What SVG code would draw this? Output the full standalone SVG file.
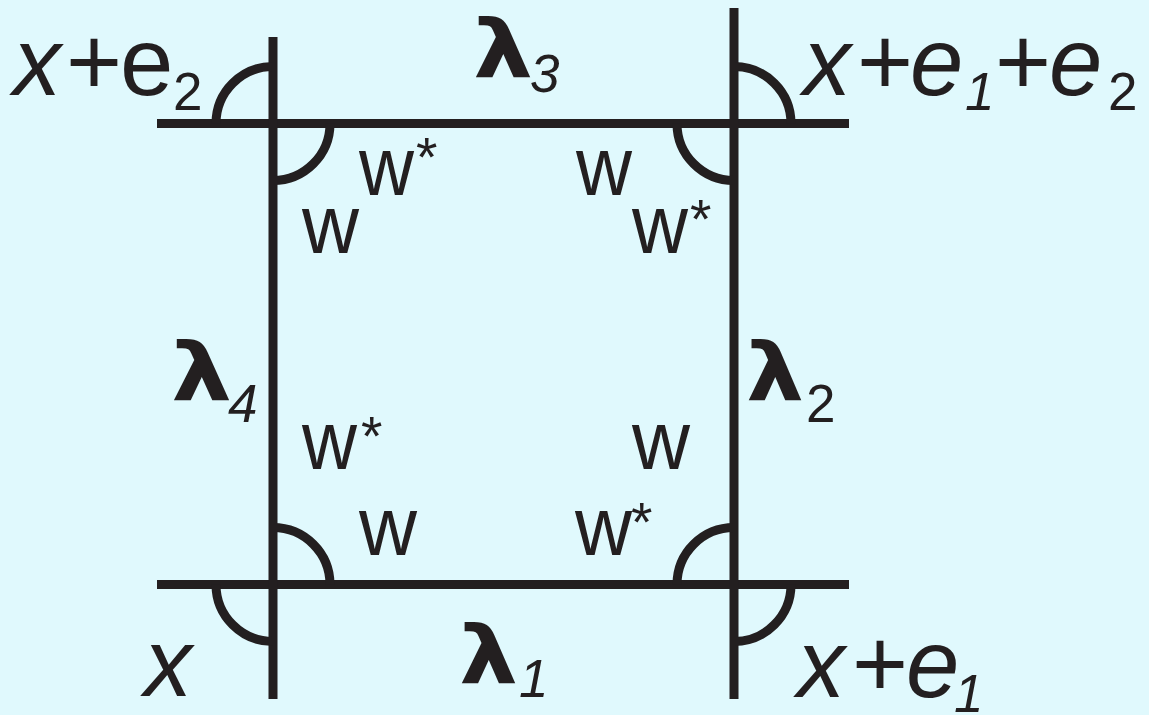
<svg xmlns="http://www.w3.org/2000/svg" width="1149" height="715" viewBox="0 0 1149 715">
<style>
.ln{stroke:#231f20;stroke-width:9;fill:none}
.t{font-family:"Liberation Sans",Arial,sans-serif;fill:#231f20}
.m{font-size:96px}
.s{font-size:53px}
.i{font-style:italic}
.w{font-size:84px}
.a{font-size:55px}
.l{font-family:"DejaVu Sans",sans-serif;font-weight:bold;font-size:80px;fill:#231f20}
</style>
<rect width="1149" height="715" fill="#e0f9fd"/>
<g id="connectors">
<line class="ln" x1="157" y1="123.5" x2="849" y2="123.5"/>
<line class="ln" x1="157" y1="584.5" x2="849" y2="584.5"/>
<line class="ln" x1="273" y1="37" x2="273" y2="699"/>
<line class="ln" x1="734" y1="8" x2="734" y2="699"/>
<path class="ln" d="M216,123.5 A57,57 0 0 1 273,66.5"/>
<path class="ln" d="M330,123.5 A57,57 0 0 1 273,180.5"/>
<path class="ln" d="M677,123.5 A57,57 0 0 0 734,180.5"/>
<path class="ln" d="M734,66.5 A57,57 0 0 1 791,123.5"/>
<path class="ln" d="M273,527.5 A57,57 0 0 1 330,584.5"/>
<path class="ln" d="M216,584.5 A57,57 0 0 0 273,641.5"/>
<path class="ln" d="M677,584.5 A57,57 0 0 1 734,527.5"/>
<path class="ln" d="M734,641.5 A57,57 0 0 0 791,584.5"/>
</g>
<g id="corner-tl">
<text class="t m i" x="13" y="95">x</text>
<text class="t m" x="66" y="95">+</text>
<text class="t m" x="120" y="95">e</text>
<text class="t s" x="173" y="110">2</text>
</g>
<g id="corner-tr">
<text class="t m i" x="803" y="95">x</text>
<text class="t m" x="857" y="95">+</text>
<text class="t m i" x="910" y="95">e</text>
<text class="t s i" x="965" y="110">1</text>
<text class="t m" x="995" y="95">+</text>
<text class="t m i" x="1049" y="95">e</text>
<text class="t s" x="1108" y="110">2</text>
</g>
<g id="corner-br">
<text class="t m i" x="797" y="697">x</text>
<text class="t m" x="852" y="697">+</text>
<text class="t m i" x="906" y="697">e</text>
<text class="t s i" x="954" y="712">1</text>
</g>
<g id="corner-bl">
<text class="t m i" x="144" y="696">x</text>
</g>
<g id="edge-labels">
<text class="l" x="473" y="77" textLength="60" lengthAdjust="spacingAndGlyphs">λ</text><text class="t s i" x="530" y="92">3</text>
<text class="l" x="171" y="400" textLength="61" lengthAdjust="spacingAndGlyphs">λ</text><text class="t s i" x="228" y="422">4</text>
<text class="l" x="746" y="400" textLength="58" lengthAdjust="spacingAndGlyphs">λ</text><text class="t s" x="806" y="422">2</text>
<text class="l" x="459" y="683" textLength="59" lengthAdjust="spacingAndGlyphs">λ</text><text class="t s i" x="519" y="697">1</text>
</g>
<g id="w-labels">
<text class="t w" x="359" y="195" textLength="55" lengthAdjust="spacingAndGlyphs">w</text><text class="t a" x="416" y="176">*</text>
<text class="t w" x="302" y="253" textLength="57" lengthAdjust="spacingAndGlyphs">w</text>
<text class="t w" x="576" y="195" textLength="56" lengthAdjust="spacingAndGlyphs">w</text>
<text class="t w" x="632" y="253" textLength="56" lengthAdjust="spacingAndGlyphs">w</text><text class="t a" x="690" y="238">*</text>
<text class="t w" x="302" y="469" textLength="55" lengthAdjust="spacingAndGlyphs">w</text><text class="t a" x="361" y="455">*</text>
<text class="t w" x="359" y="555" textLength="58" lengthAdjust="spacingAndGlyphs">w</text>
<text class="t w" x="632" y="469" textLength="58" lengthAdjust="spacingAndGlyphs">w</text>
<text class="t w" x="575" y="555" textLength="57" lengthAdjust="spacingAndGlyphs">w</text><text class="t a" x="631" y="541">*</text>
</g>
</svg>
